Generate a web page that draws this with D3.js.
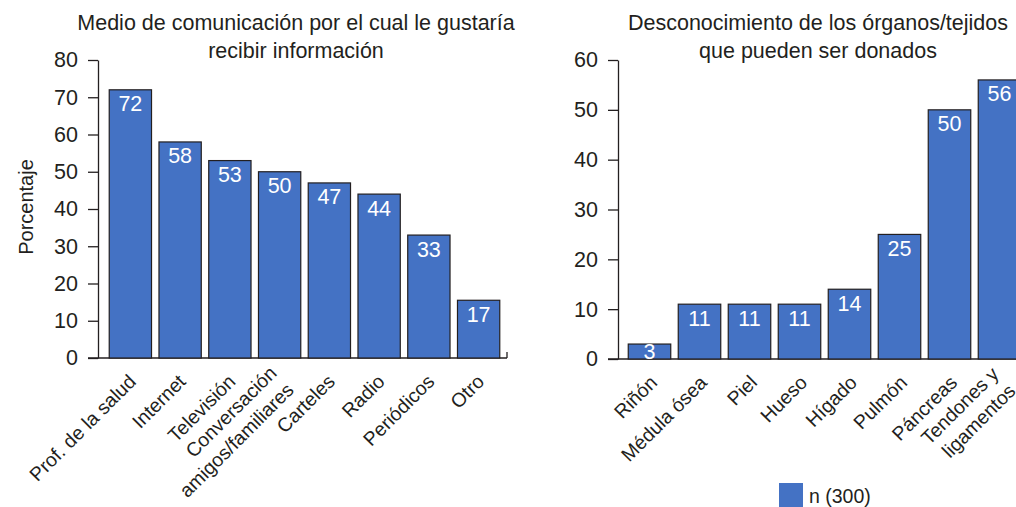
<!DOCTYPE html>
<html>
<head>
<meta charset="utf-8">
<script src="https://cdn.jsdelivr.net/npm/d3@7"></script>
<style>
  html, body { margin: 0; padding: 0; background: #fff; overflow: hidden; }
  svg { display: block; font-family: 'Liberation Sans', Arial, sans-serif; }
</style>
</head>
<body>
<div id="chart"></div>
<script>
// left panel
const mediaCategories = ['Prof. de la salud', 'Internet', 'Televisión', 'Conversación\namigos/familiares',
  'Carteles', 'Radio', 'Periódicos', 'Otro']
const mediaHeights = [72, 58, 53, 50, 47, 44, 33, 15.5]
const mediaLabels = ['72', '58', '53', '50', '47', '44', '33', '17']
const mediaTicks = [0, 10, 20, 30, 40, 50, 60, 70, 80]

// right panel
const organCategories = ['Riñón', 'Médula ósea', 'Piel', 'Hueso', 'Hígado', 'Pulmón', 'Páncreas',
  'Tendones y\nligamentos']
const organValues = [3, 11, 11, 11, 14, 25, 50, 56]
const organTicks = [0, 10, 20, 30, 40, 50, 60]
const legendLabel = 'n (300)'

const W = 1016
const H = 507
const barColor = '#4472c4'
const ink = '#231f20'

const svg = d3.select('#chart').append('svg')
  .attr('width', W)
  .attr('height', H)

function drawPanel (opt) {
  let g = svg.append('g')
  let x = d3.scaleBand()
    .domain(opt.categories)
    .range(opt.xRange)
    .paddingInner(0.15)
    .paddingOuter(0.075)
  let y = d3.scaleLinear()
    .domain([0, d3.max(opt.ticks)])
    .range(opt.yRange)

  // title
  g.append('text')
    .attr('x', opt.titleX)
    .attr('y', 30)
    .attr('text-anchor', 'middle')
    .attr('font-size', '21.5px')
    .attr('fill', ink)
    .selectAll('tspan')
    .data(opt.title)
    .enter()
    .append('tspan')
    .attr('x', opt.titleX)
    .attr('dy', (d, i) => i === 0 ? 0 : 27.5)
    .text(d => d)

  // y axis
  let yAxis = g.append('g')
    .attr('transform', `translate(${opt.axisX},0)`)
    .call(d3.axisLeft(y).tickValues(opt.ticks).tickSize(10).tickPadding(10).tickSizeOuter(0))
  yAxis.select('.domain').attr('stroke', ink).attr('stroke-width', 1.3)
  yAxis.selectAll('.tick line').attr('stroke', ink).attr('stroke-width', 1.3)
  yAxis.selectAll('.tick text')
    .attr('font-size', '21.5px')
    .attr('font-family', 'Liberation Sans, Arial, sans-serif')
    .attr('fill', ink)

  // baseline
  g.append('line')
    .attr('x1', opt.axisX - 10)
    .attr('x2', opt.xEnd)
    .attr('y1', y(0))
    .attr('y2', y(0))
    .attr('stroke', ink)
    .attr('stroke-width', 1.3)
  if (opt.endTick) {
    g.append('line')
      .attr('x1', opt.xEnd)
      .attr('x2', opt.xEnd)
      .attr('y1', y(0))
      .attr('y2', y(0) - 6)
      .attr('stroke', ink)
      .attr('stroke-width', 1.3)
  }

  // bars
  let bar = g.selectAll('.bar')
    .data(opt.categories)
    .enter()
    .append('g')
    .attr('class', 'bar')
  bar.append('rect')
    .attr('x', d => x(d))
    .attr('y', (d, i) => y(opt.values[i]))
    .attr('width', x.bandwidth())
    .attr('height', (d, i) => y(0) - y(opt.values[i]))
    .attr('fill', barColor)
    .attr('stroke', ink)
    .attr('stroke-width', 1.2)
  bar.append('text')
    .text((d, i) => opt.labels[i])
    .attr('x', d => x(d) + x.bandwidth() / 2)
    .attr('y', (d, i) => Math.min(y(opt.values[i]) + 21.5, y(0)))
    .attr('text-anchor', 'middle')
    .attr('font-size', '21.5px')
    .attr('fill', '#fff')

  // category labels, rotated
  let lh = 24
  g.selectAll('.cat')
    .data(opt.categories)
    .enter()
    .append('text')
    .attr('class', 'cat')
    .attr('transform', d => `translate(${x(d) + x.bandwidth() / 2 + opt.labelDx},${y(0) + 15}) rotate(-45)`)
    .attr('text-anchor', 'end')
    .attr('font-size', '19.5px')
    .attr('fill', ink)
    .each(function (d) {
      let lines = d.split('\n')
      let off = -(lines.length - 1) * lh / 2
      d3.select(this).selectAll('tspan')
        .data(lines)
        .enter()
        .append('tspan')
        .attr('x', 0)
        .attr('y', (l, i) => off + i * lh)
        .attr('dy', '0.71em')
        .text(l => l)
    })
}

drawPanel({
  categories: mediaCategories,
  values: mediaHeights,
  labels: mediaLabels,
  ticks: mediaTicks,
  xRange: [105.5, 503.5],
  yRange: [358, 60],
  axisX: 98,
  xEnd: 507,
  endTick: true,
  labelDx: -3,
  titleX: 296,
  title: ['Medio de comunicación por el cual le gustaría', 'recibir información']
})

drawPanel({
  categories: organCategories,
  values: organValues,
  labels: organValues.map(String),
  ticks: organTicks,
  xRange: [624.5, 1024.5],
  yRange: [359, 60],
  axisX: 618,
  xEnd: W,
  endTick: false,
  labelDx: -1,
  titleX: 818,
  title: ['Desconocimiento de los órganos/tejidos', 'que pueden ser donados']
})

// y label left
svg.append('text')
  .attr('transform', 'translate(33,207) rotate(-90)')
  .attr('text-anchor', 'middle')
  .attr('font-size', '20px')
  .attr('fill', ink)
  .text('Porcentaje')

// legend
svg.append('rect')
  .attr('x', 779)
  .attr('y', 483)
  .attr('width', 24)
  .attr('height', 24)
  .attr('fill', barColor)
svg.append('text')
  .attr('x', 809)
  .attr('y', 503)
  .attr('font-size', '19.5px')
  .attr('fill', ink)
  .text(legendLabel)
</script>
</body>
</html>
